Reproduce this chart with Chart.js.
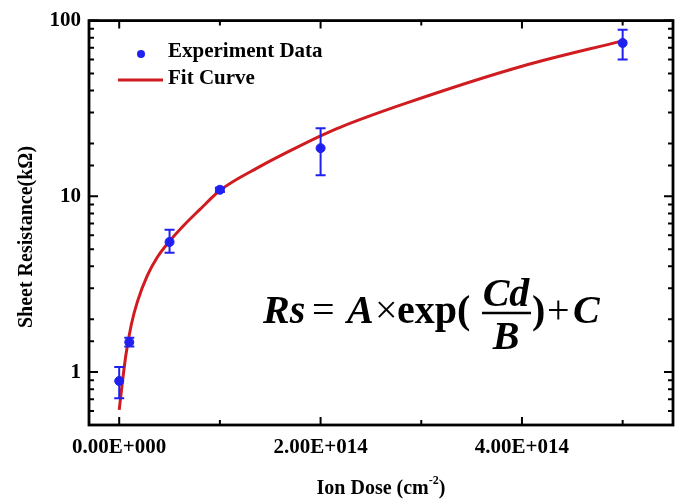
<!DOCTYPE html>
<html>
<head>
<meta charset="utf-8">
<script src="https://cdn.jsdelivr.net/npm/chart.js@4"></script>
<style>
  html, body { margin: 0; padding: 0; background: #fff; }
  #wrap { width: 680px; height: 500px; }
</style>
</head>
<body>
<div id="wrap"><canvas id="sheetChart" width="680" height="500"></canvas></div>
<script>
// measured points (ion dose in cm^-2, sheet resistance in kOhm)
const doseValues = [0, 1e13, 5e13, 1e14, 2e14, 5e14];
const resistanceValues = [0.89, 1.48, 5.5, 10.9, 18.8, 74.6];
const errorLow = [0.71, 1.4, 4.78, 10.6, 13.2, 60.1];
const errorHigh = [1.07, 1.57, 6.45, 11.2, 24.4, 88.7];

// fit curve
const fitDose = [0, 3.3e12, 6.7e12, 1.2e13, 1.8e13, 2.8e13, 3.8e13, 5e13, 6.5e13, 8e13,
  1e14, 1.4e14, 1.7e14, 2e14, 2.2e14, 2.85e14, 4e14, 5e14];
const fitResistance = [0.61, 0.89, 1.26, 1.86, 2.51, 3.55, 4.52, 5.56, 6.92, 8.41,
  10.8, 14.8, 18.2, 22.1, 24.8, 33.9, 55, 76.7];

// axis ticks
const xTickValues = [0, 1e14, 2e14, 3e14, 4e14, 5e14];
const xTickLabels = ["0.00E+000", "", "2.00E+014", "", "4.00E+014", ""];
const yLabelValues = [1, 10, 100];

const BLUE = "#2020f0";
const RED = "#d01c20";
const SERIF = '"Liberation Serif", "Times New Roman", serif';

const toPoints = (xs, ys) => xs.map((x, i) => ({ x, y: ys[i] }));

// frame, inward ticks, error bars, legend and equation
const decorPlugin = {
  id: "decor",
  afterDatasetsDraw(chart) {
    const { ctx } = chart;
    const xs = chart.scales.x, ys = chart.scales.y;
    ctx.save();
    ctx.strokeStyle = BLUE;
    ctx.lineWidth = 2;
    doseValues.forEach((d, i) => {
      const px = xs.getPixelForValue(d);
      const top = ys.getPixelForValue(errorHigh[i]);
      const bot = ys.getPixelForValue(errorLow[i]);
      ctx.beginPath();
      ctx.moveTo(px, top); ctx.lineTo(px, bot);
      ctx.moveTo(px - 5, top); ctx.lineTo(px + 5, top);
      ctx.moveTo(px - 5, bot); ctx.lineTo(px + 5, bot);
      ctx.stroke();
    });
    ctx.restore();
  },
  afterDraw(chart) {
    const { ctx, chartArea: a } = chart;
    const xs = chart.scales.x, ys = chart.scales.y;
    ctx.save();

    // ticks on all four sides, pointing inward
    ctx.strokeStyle = "#000";
    ctx.lineWidth = 2;
    xs.ticks.forEach((t) => {
      const px = xs.getPixelForValue(t.value);
      const len = t.label ? 8 : 5;
      ctx.beginPath();
      ctx.moveTo(px, a.bottom); ctx.lineTo(px, a.bottom - len);
      ctx.moveTo(px, a.top); ctx.lineTo(px, a.top + len);
      ctx.stroke();
    });
    ys.ticks.forEach((t) => {
      const py = ys.getPixelForValue(t.value);
      const len = t.label ? 9 : 5;
      ctx.beginPath();
      ctx.moveTo(a.left, py); ctx.lineTo(a.left + len, py);
      ctx.moveTo(a.right, py); ctx.lineTo(a.right - len, py);
      ctx.stroke();
    });

    // frame
    ctx.lineWidth = 2.8;
    ctx.strokeRect(a.left, a.top, a.right - a.left, a.bottom - a.top);

    // axis titles
    ctx.fillStyle = "#000";
    ctx.font = "bold 20px " + SERIF;
    ctx.textBaseline = "alphabetic";
    const main = "Ion Dose (cm";
    const sup = "-2";
    const close = ")";
    const wMain = ctx.measureText(main).width;
    const wClose = ctx.measureText(close).width;
    ctx.font = "bold 12px " + SERIF;
    const wSup = ctx.measureText(sup).width;
    let tx = (a.left + a.right) / 2 - (wMain + wSup + wClose) / 2;
    ctx.font = "bold 20px " + SERIF;
    ctx.fillText(main, tx, 494);
    ctx.font = "bold 12px " + SERIF;
    ctx.fillText(sup, tx + wMain, 484);
    ctx.font = "bold 20px " + SERIF;
    ctx.fillText(close, tx + wMain + wSup, 494);

    ctx.save();
    ctx.translate(32, 237);
    ctx.rotate(-Math.PI / 2);
    ctx.textAlign = "center";
    ctx.fillText("Sheet Resistance(k\u03A9)", 0, 0);
    ctx.restore();

    // legend
    ctx.fillStyle = BLUE;
    ctx.beginPath();
    ctx.arc(141, 54, 4, 0, Math.PI * 2);
    ctx.fill();
    ctx.strokeStyle = RED;
    ctx.lineWidth = 3;
    ctx.beginPath();
    ctx.moveTo(118, 80); ctx.lineTo(163, 80);
    ctx.stroke();
    ctx.fillStyle = "#000";
    ctx.font = "bold 21px " + SERIF;
    ctx.textBaseline = "middle";
    ctx.fillText("Experiment Data", 168, 52);
    ctx.fillText("Fit Curve", 168, 79);

    // equation
    ctx.textBaseline = "alphabetic";
    const bi = "italic bold 40px " + SERIF;
    const b = "bold 40px " + SERIF;
    const r = "40px " + SERIF;
    const parts = [
      ["Rs", bi, 263], ["=", r, 312], ["A", bi, 347], ["\u00D7", r, 375],
      ["exp(", b, 397], [")", b, 532], ["+", r, 547], ["C", bi, 573],
    ];
    parts.forEach(([s, f, x]) => { ctx.font = f; ctx.fillText(s, x, 323); });
    ctx.textAlign = "center";
    ctx.font = bi;
    ctx.fillText("Cd", 506, 306);
    ctx.fillText("B", 506, 349);
    ctx.lineWidth = 2.5;
    ctx.strokeStyle = "#000";
    ctx.beginPath();
    ctx.moveTo(482, 313); ctx.lineTo(531, 313);
    ctx.stroke();

    ctx.restore();
  },
};

const ctx = document.getElementById("sheetChart").getContext("2d");

new Chart(ctx, {
  type: "scatter",
  data: {
    datasets: [
      {
        label: "Experiment Data",
        data: toPoints(doseValues, resistanceValues),
        pointRadius: 4.5,
        pointBackgroundColor: BLUE,
        pointBorderColor: BLUE,
        showLine: false,
        order: 0,
      },
      {
        label: "Fit Curve",
        type: "line",
        data: toPoints(fitDose, fitResistance),
        borderColor: RED,
        borderWidth: 3,
        pointRadius: 0,
        cubicInterpolationMode: "monotone",
        fill: false,
        order: 1,
      },
    ],
  },
  options: {
    responsive: false,
    animation: false,
    layout: { padding: { top: 17, right: 7, left: 0, bottom: 0 } },
    plugins: {
      legend: { display: false },
      tooltip: { enabled: false },
    },
    scales: {
      x: {
        type: "linear",
        min: -0.3e14,
        max: 5.5e14,
        afterBuildTicks: (scale) => {
          scale.ticks = xTickValues.map((v) => ({ value: v }));
        },
        afterFit: (scale) => { scale.height = 75; },
        grid: { display: false, drawTicks: false },
        border: { display: false },
        ticks: {
          autoSkip: false,
          maxRotation: 0,
          padding: 10,
          color: "#000",
          font: { family: SERIF, size: 21, weight: "bold" },
          callback: (value) => {
            const i = xTickValues.findIndex((v) => Math.abs(v - value) < 1e10);
            return i >= 0 ? xTickLabels[i] : "";
          },
        },
      },
      y: {
        type: "logarithmic",
        min: 0.5,
        max: 100,
        afterFit: (scale) => { scale.width = 89; },
        grid: { display: false, drawTicks: false },
        border: { display: false },
        ticks: {
          autoSkip: false,
          padding: 8,
          color: "#000",
          font: { family: SERIF, size: 21, weight: "bold" },
          callback: (value) =>
            yLabelValues.some((v) => Math.abs(v - value) < 1e-9) ? String(value) : "",
        },
      },
    },
  },
  plugins: [decorPlugin],
});
</script>
</body>
</html>
